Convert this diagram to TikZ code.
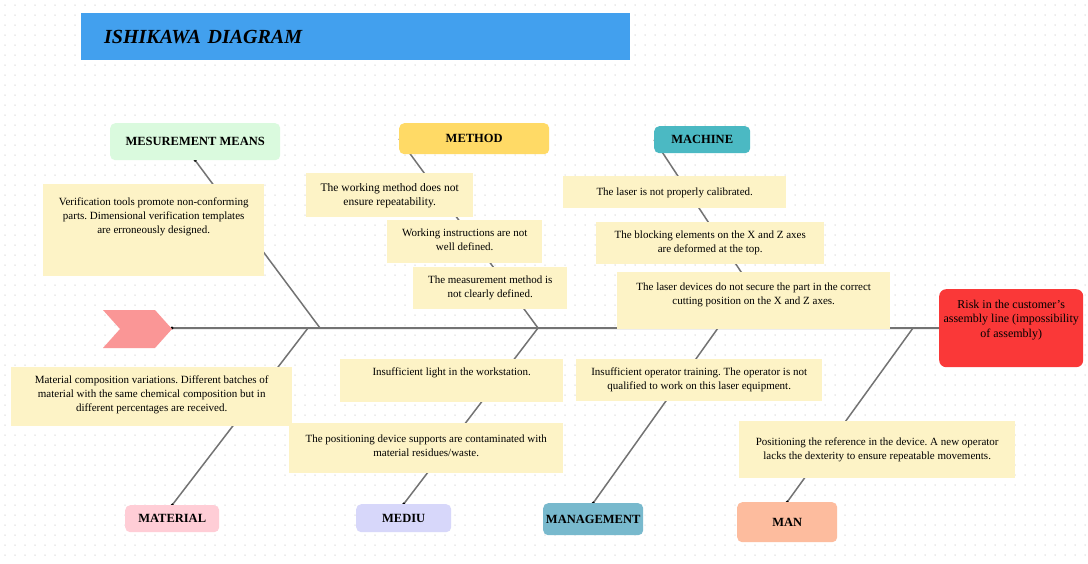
\documentclass[tikz,border=0pt]{standalone}
\usepackage{fontspec}
\setmainfont{Liberation Serif}
\frenchspacing
\definecolor{titleblue}{RGB}{66,160,238}
\definecolor{chev}{RGB}{250,150,150}
\definecolor{headred}{RGB}{250,56,56}
\definecolor{causebg}{RGB}{253,243,198}
\definecolor{mmcol}{RGB}{218,250,222}
\definecolor{methcol}{RGB}{255,218,102}
\definecolor{machcol}{RGB}{75,185,195}
\definecolor{matcol}{RGB}{255,205,214}
\definecolor{medcol}{RGB}{215,215,250}
\definecolor{mgmtcol}{RGB}{120,185,205}
\definecolor{mancol}{RGB}{253,188,158}
\definecolor{bonegray}{RGB}{115,115,115}
\definecolor{dotgray}{RGB}{215,215,215}
\newcommand{\cbx}[4]{\parbox[c][#2pt][t]{#1pt}{\centering\vspace*{#3pt}\strut #4\par}}
\pgfdeclarelayer{bg}
\pgfdeclarelayer{lines}
\pgfsetlayers{bg,lines,main}
\tikzset{
  bone/.style={draw=bonegray, line width=1.5pt},
  spineline/.style={draw=bonegray, line width=2pt},
  cause/.style={fill=causebg, inner sep=0pt, anchor=north west, font=\fontsize{11}{14}\selectfont},
  bigcause/.style={cause, font=\fontsize{11.5}{14}\selectfont},
  cat/.style={rounded corners=5pt, inner sep=0pt, anchor=north west, font=\bfseries\fontsize{12.5}{14}\selectfont},
  enddot/.style={fill=black}
}
\begin{document}
\begin{tikzpicture}[x=1pt,y=-1pt]
\useasboundingbox (0,0) rectangle (1088,563);
\begin{pgfonlayer}{bg}
  \fill[white] (0,0) rectangle (1088,563);
  \foreach \yy in {5,15,...,560}
    \draw[dotgray, line width=1.5pt, line cap=round, dash pattern=on 0pt off 10pt] (5,\yy) -- (1088,\yy);
\end{pgfonlayer}

% title
\node[fill=titleblue, anchor=north west, minimum height=47pt, inner ysep=0pt, inner xsep=23pt,
      text width=503pt, align=left, font=\bfseries\itshape\fontsize{20}{22}\selectfont] (title) at (81,13) {ISHIKAWA DIAGRAM};

% category boxes
\node[cat, fill=mmcol, minimum width=170pt, minimum height=37pt] (mm) at (110,123) {MESUREMENT MEANS};
\node[cat, fill=methcol, minimum width=150pt, minimum height=31pt] (meth) at (399,123) {METHOD};
\node[cat, fill=machcol, minimum width=96pt, minimum height=27pt] (mach) at (654,126) {MACHINE};
\node[cat, fill=matcol, minimum width=94pt, minimum height=27pt] (mat) at (125,505) {MATERIAL};
\node[cat, fill=medcol, minimum width=95pt, minimum height=28pt] (med) at (356,504) {MEDIU};
\node[cat, fill=mgmtcol, minimum width=100pt, minimum height=32pt] (mgmt) at (543,503) {MANAGEMENT};
\node[cat, fill=mancol, minimum width=100pt, minimum height=40pt] (man) at (737,502) {MAN};

% head
\node[fill=headred, rounded corners=7pt, anchor=north west, inner sep=0pt,
      font=\fontsize{12}{14.5}\selectfont] (head) at (939,289)
  {\parbox[c][78pt][t]{144pt}{\centering\vspace*{9pt}\strut Risk in the customer's\\assembly line (impossibility\\of assembly)\par}};

% spine joints
\coordinate (tail) at (172,328);
\coordinate (j1) at (320,328);
\coordinate (j2) at (308,328);
\coordinate (j3) at (538,328);
\coordinate (j4) at (778,328);
\coordinate (j5) at (718,328);
\coordinate (j6) at (913,328);

\begin{pgfonlayer}{lines}
  \draw[spineline] (tail) -- (head.west);
  \draw[bone] (mm.south) -- (j1);
  \draw[bone] (meth.west) -- (j3);
  \draw[bone] (mach.west) -- (j4);
  \draw[bone] (mat.north) -- (j2);
  \draw[bone] (med.north) -- (j3);
  \draw[bone] (mgmt.north) -- (j5);
  \draw[bone] (man.north) -- (j6);
  \fill[enddot] (tail) circle (1.6pt);
  \foreach \n in {mm.south,mat.north,med.north,mgmt.north,man.north}
    \fill[enddot] (\n) circle (1.6pt);
\end{pgfonlayer}

% tail chevron
\fill[chev] (103,310) -- (155,310) -- (172,329) -- (155,348) -- (103,348) -- (120,329) -- cycle;

% causes
\node[cause] (c1) at (43,184) {\cbx{221}{92}{11}{Verification tools promote non-conforming\\parts. Dimensional verification templates\\are erroneously designed.}};
\node[cause] (c2) at (11,367) {\cbx{281}{59}{6}{Material composition variations. Different batches of\\material with the same chemical composition but in\\different percentages are received.}};
\node[bigcause] (c3) at (306,173) {\cbx{167}{44}{8}{The working method does not\\ensure repeatability.}};
\node[cause] (c4) at (387,220) {\cbx{155}{43}{6}{Working instructions are not\\well defined.}};
\node[cause] (c5) at (413,267) {\cbx{154}{42}{6}{The measurement method is\\not clearly defined.}};
\node[cause] (c6) at (563,176) {\cbx{223}{32}{9}{The laser is not properly calibrated.}};
\node[cause] (c7) at (596,222) {\cbx{228}{42}{6}{The blocking elements on the X and Z axes\\are deformed at the top.}};
\node[cause] (c8) at (617,272) {\cbx{273}{57}{8}{The laser devices do not secure the part in the correct\\cutting position on the X and Z axes.}};
\node[cause] (c9) at (340,359) {\cbx{223}{43}{6}{Insufficient light in the workstation.}};
\node[cause] (c10) at (289,423) {\cbx{274}{50}{9}{The positioning device supports are contaminated with\\material residues/waste.}};
\node[cause] (c11) at (576,359) {\cbx{246}{42}{6}{Insufficient operator training. The operator is not\\qualified to work on this laser equipment.}};
\node[cause] (c12) at (739,421) {\cbx{276}{57}{14}{Positioning the reference in the device. A new operator\\lacks the dexterity to ensure repeatable movements.}};
\end{tikzpicture}
\end{document}
